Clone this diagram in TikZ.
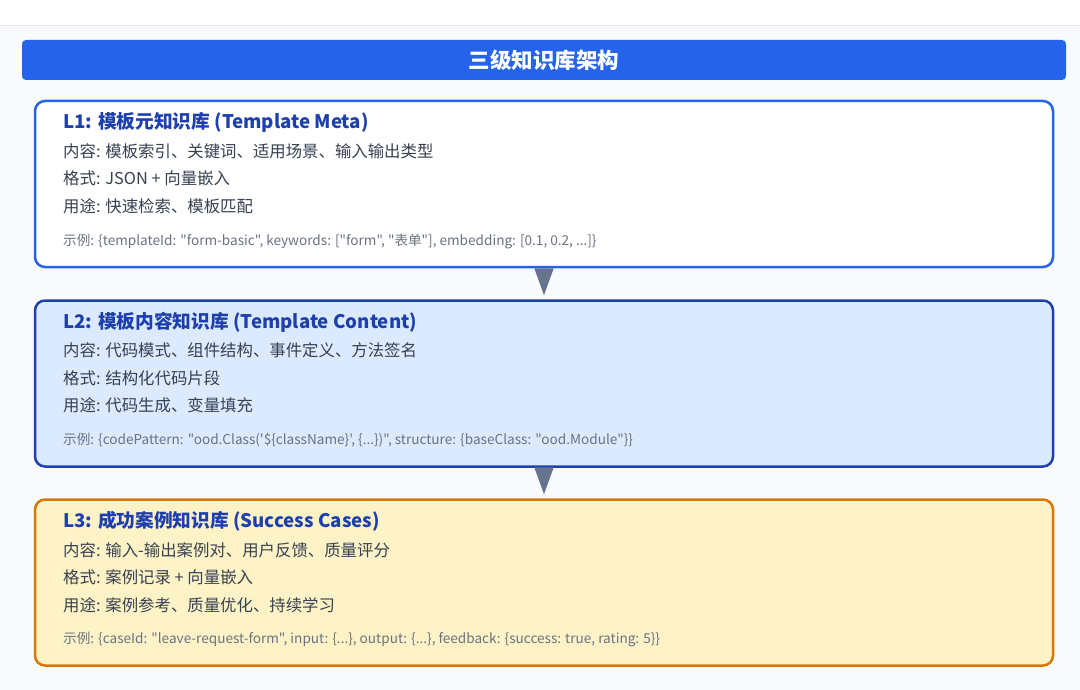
\documentclass[tikz,border=0pt]{standalone}
\usepackage{fontspec}
\setmainfont{Noto Sans CJK SC}[Ligatures=TeXOff]
\usetikzlibrary{arrows.meta,positioning}

\definecolor{pagebg}{HTML}{F9FAFB}
\definecolor{ruleline}{HTML}{E5E7EB}
\definecolor{barblue}{HTML}{2563EB}
\definecolor{deepblue}{HTML}{1E40AF}
\definecolor{paleblue}{HTML}{DBEAFE}
\definecolor{amber}{HTML}{D97706}
\definecolor{paleamber}{HTML}{FEF3C7}
\definecolor{bodytext}{HTML}{374151}
\definecolor{hinttext}{HTML}{6B7280}
\definecolor{arrowgray}{HTML}{64748B}

\tikzset{
    layerbox/.style={rounded corners=10pt, line width=2.5pt, minimum width=1018pt, minimum height=166pt},
    headline/.style={anchor=west, inner sep=0pt, text=deepblue, font=\fontsize{18.7}{22}\selectfont\bfseries},
    bodyline/.style={anchor=west, inner sep=0pt, text=bodytext, font=\fontsize{16.4}{19}\selectfont},
    hintline/.style={anchor=west, inner sep=0pt, text=hinttext, font=\fontsize{13.6}{16}\selectfont},
    flow/.style={arrowgray, line width=2pt, -{Triangle[width=19pt,length=27pt]}, shorten >=4pt}
}

\begin{document}
\begin{tikzpicture}[x=1pt,y=-1pt]
    \useasboundingbox (0,0) rectangle (1080,690);
    \fill[white] (0,0) rectangle (1080,25);
    \fill[pagebg] (0,25) rectangle (1080,690);
    \draw[ruleline] (0,25) -- (1080,25);

    \node[fill=barblue, rounded corners=4pt, minimum width=1044pt, minimum height=40pt,
          text=white, font=\fontsize{21.5}{24}\selectfont\bfseries] (title) at (544,60) {三级知识库架构};

    % L1
    \node[layerbox, draw=barblue, fill=white] (l1) at (544,184) {};
    \node[headline] (l1h) at (63,122) {L1: 模板元知识库 (Template Meta)};
    \node[bodyline] (l1a) at (63,151) {内容: 模板索引、关键词、适用场景、输入输出类型};
    \node[bodyline] (l1b) at (63,178) {格式: JSON + 向量嵌入};
    \node[bodyline] (l1c) at (63,206) {用途: 快速检索、模板匹配};
    \node[hintline] (l1x) at (63,241) {示例: \{templateId: "form-basic", keywords: ["form", "表单"], embedding: [0.1, 0.2, ...]\}};

    % L2
    \node[layerbox, draw=deepblue, fill=paleblue] (l2) at (544,383.5) {};
    \node[headline] (l2h) at (63,322) {L2: 模板内容知识库 (Template Content)};
    \node[bodyline] (l2a) at (63,350) {内容: 代码模式、组件结构、事件定义、方法签名};
    \node[bodyline] (l2b) at (63,378) {格式: 结构化代码片段};
    \node[bodyline] (l2c) at (63,405) {用途: 代码生成、变量填充};
    \node[hintline] (l2x) at (63,440) {示例: \{codePattern: "ood.Class('\$\{className\}', \{...\})", structure: \{baseClass: "ood.Module"\}\}};

    % L3
    \node[layerbox, draw=amber, fill=paleamber] (l3) at (544,582.5) {};
    \node[headline] (l3h) at (63,521) {L3: 成功案例知识库 (Success Cases)};
    \node[bodyline] (l3a) at (63,550) {内容: 输入-输出案例对、用户反馈、质量评分};
    \node[bodyline] (l3b) at (63,577) {格式: 案例记录 + 向量嵌入};
    \node[bodyline] (l3c) at (63,605) {用途: 案例参考、质量优化、持续学习};
    \node[hintline] (l3x) at (63,639) {示例: \{caseId: "leave-request-form", input: \{...\}, output: \{...\}, feedback: \{success: true, rating: 5\}\}};

    \draw[flow] (l1.south) -- (l2.north);
    \draw[flow] (l2.south) -- (l3.north);
\end{tikzpicture}
\end{document}
